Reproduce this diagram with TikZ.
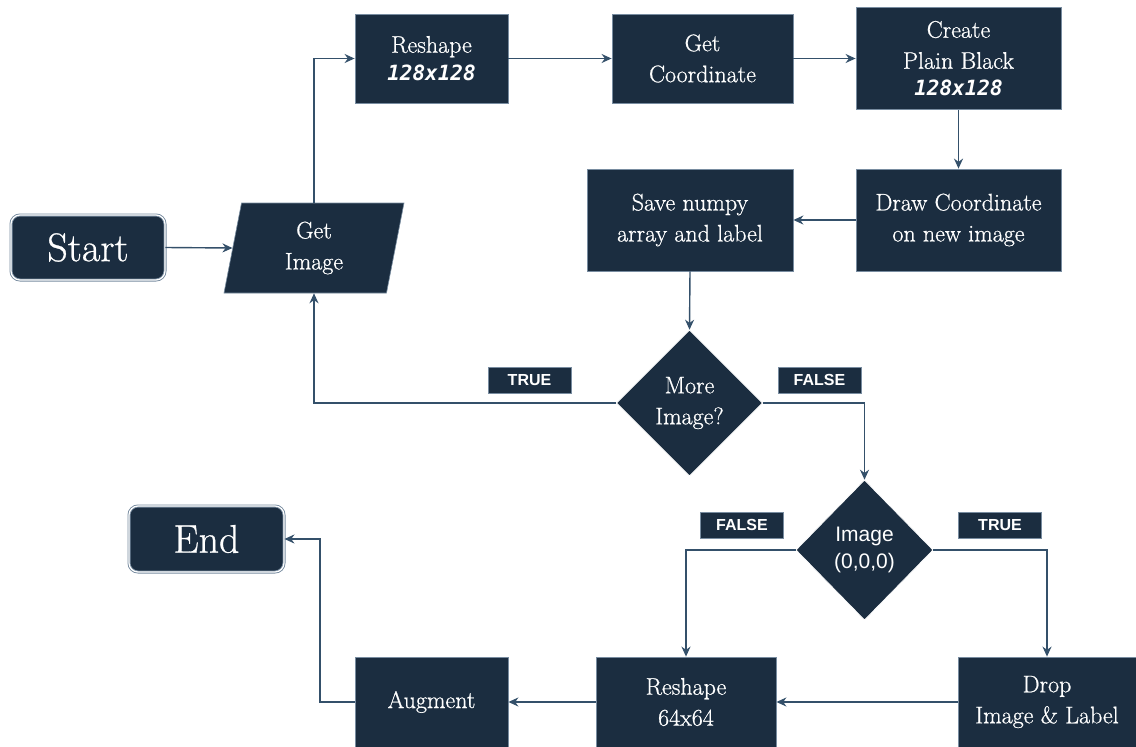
\documentclass[tikz,border=0pt]{standalone}
\usepackage{fontspec}
\usetikzlibrary{shapes.geometric,arrows.meta}
\newfontfamily\sansf{Liberation Sans}
\newfontfamily\monof{DejaVu Sans Mono}
\newfontfamily\serifw[FakeBold=0.7]{Latin Modern Roman}
\definecolor{navy}{RGB}{27,45,64}
\definecolor{bordc}{RGB}{120,140,160}
\definecolor{arrc}{RGB}{52,80,106}
\newcommand{\serifsz}{\serifw\fontsize{24}{31}\selectfont}
\newcommand{\codesz}{\monof\bfseries\itshape\fontsize{21}{27}\selectfont}
\tikzset{
  box/.style={rectangle, fill=navy, draw=bordc, line width=0.8pt, text=white,
    align=center, font=\serifsz, inner sep=2pt},
  term/.style={rectangle, rounded corners=9pt, fill=navy, draw=bordc, double=white,
    double distance=1.2pt, line width=0.9pt, text=white, font=\serifw\fontsize{40}{48}\selectfont},
  dec/.style={diamond, fill=navy, draw=white, line width=0.6pt, text=white, align=center,
    inner sep=0pt, aspect=1},
  lbl/.style={rectangle, fill=navy, draw=bordc, line width=0.6pt, text=white,
    font=\sansf\bfseries\fontsize{16}{18}\selectfont, minimum width=83pt,
    minimum height=26pt, inner sep=0pt},
  arr/.style={draw=arrc, line width=1.4pt, -{Stealth[length=10pt,width=9pt]}}
}
\begin{document}
\begin{tikzpicture}[x=1pt,y=-1pt]
\useasboundingbox (0,0) rectangle (1136,747);
% terminals
\node[term, minimum width=154pt, minimum height=65pt] (start) at (88,247.5) {Start};
\node[term, minimum width=155pt, minimum height=66pt] (end) at (206.5,539) {End};
% input
\node[trapezium, trapezium left angle=71.6, trapezium right angle=108.4,
  trapezium stretches body, minimum width=180pt, minimum height=90pt,
  fill=navy, draw=bordc, line width=0.6pt, text=white, align=center,
  font=\serifsz, inner sep=0pt] (getimg) at (314,248) {Get\\Image};
% process boxes
\node[box, minimum width=153pt, minimum height=89pt] (resh) at (431.5,58.5)
  {Reshape\\[-3pt]{\codesz 128x128}};
\node[box, minimum width=181pt, minimum height=89pt] (getc) at (702.5,58.5)
  {Get\\Coordinate};
\node[box, minimum width=205pt, minimum height=102pt] (create) at (958.5,58.5)
  {Create\\Plain Black\\[-4pt]{\codesz 128x128}};
\node[box, minimum width=205pt, minimum height=102pt] (drawc) at (958.5,220)
  {Draw Coordinate\\on new image};
\node[box, minimum width=206pt, minimum height=102pt] (save) at (690,220)
  {Save numpy\\array and label};
\node[dec, minimum width=146pt, minimum height=146pt, font=\serifsz] (more) at (689.5,403)
  {More\\Image?};
\node[dec, minimum width=137pt, minimum height=140pt, font=\sansf\fontsize{21}{27}\selectfont]
  (img) at (864.5,550) {Image\\(0,0,0)};
\node[box, minimum width=153pt, minimum height=90pt] (aug) at (431.5,702) {Augment};
\node[box, minimum width=180pt, minimum height=90pt] (r64) at (686,702) {Reshape\\64x64};
\node[box, minimum width=178pt, minimum height=90pt] (drop) at (1047,702)
  {Drop\\Image \& Label};
% labels
\node[lbl] (t1) at (529.5,380) {TRUE};
\node[lbl] (f1) at (819.5,380) {FALSE};
\node[lbl] (f2) at (742,525) {FALSE};
\node[lbl] (t2) at (1000,525) {TRUE};
% connectors
\coordinate (c1) at (320,702);
\draw[arr] (start.east) -- (getimg.west);
\draw[arr] (getimg.north) |- (resh.west);
\draw[arr] (resh.east) -- (getc.west);
\draw[arr] (getc.east) -- (create.west);
\draw[arr] (create.south) -- (drawc.north);
\draw[arr] (drawc.west) -- (save.east);
\draw[arr] (save.south) -- (more.north);
\draw[arr] (more.west) -| (getimg.south);
\draw[arr] (more.east) -| (img.north);
\draw[arr] (img.west) -| (r64.north);
\draw[arr] (img.east) -| (drop.north);
\draw[arr] (drop.west) -- (r64.east);
\draw[arr] (r64.west) -- (aug.east);
\draw[arr] (aug.west) -- (c1) |- (end.east);
\end{tikzpicture}
\end{document}
